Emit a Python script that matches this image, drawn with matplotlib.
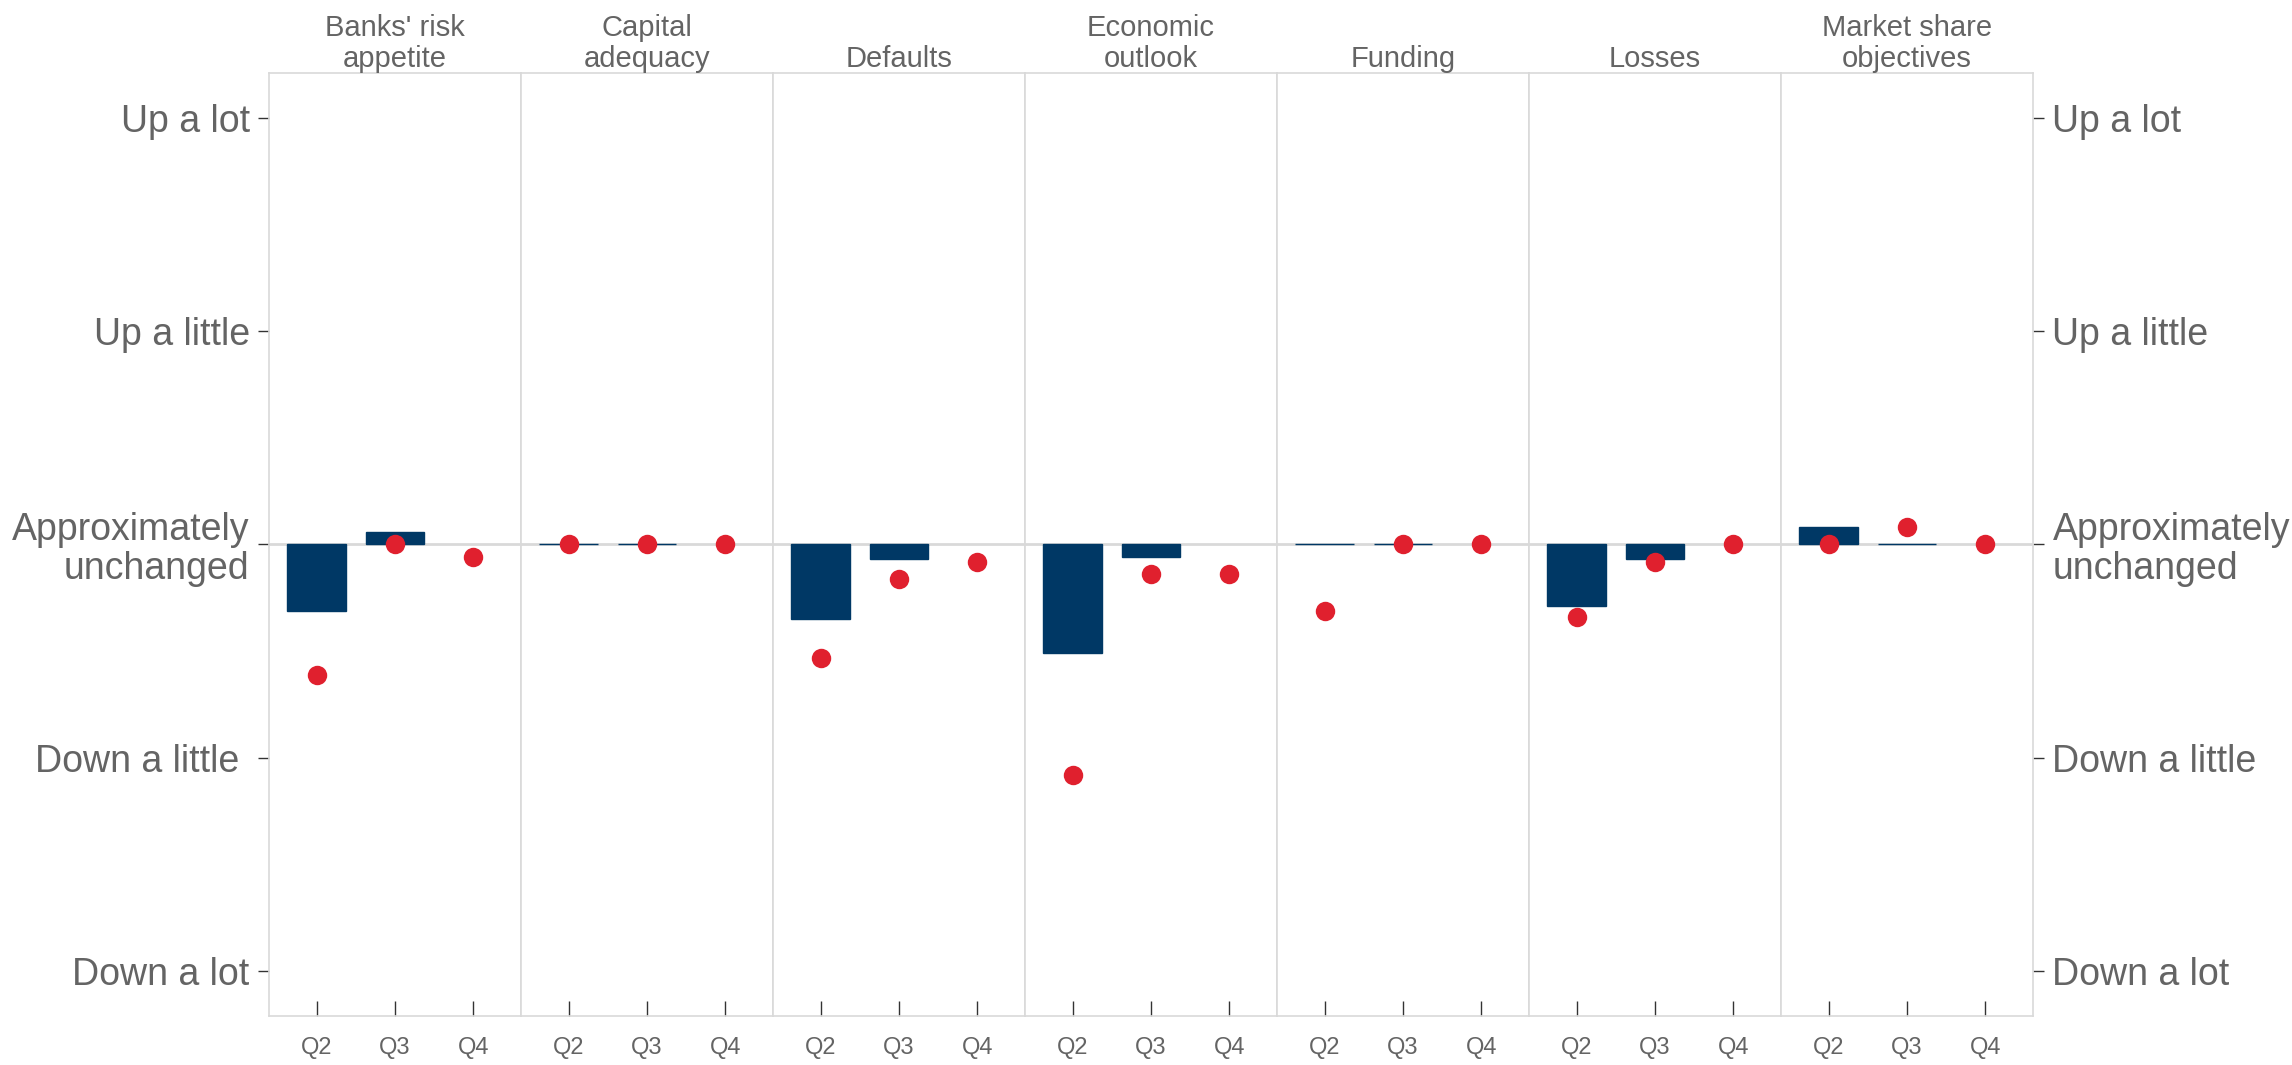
import numpy as np
import matplotlib
matplotlib.use("Agg")
import matplotlib.pyplot as plt

plt.rcParams['font.family'] = ['Liberation Sans Narrow', 'Liberation Sans', 'DejaVu Sans']

# factors and quarters
groups = ["Banks' risk\nappetite", "Capital\nadequacy", "Defaults", "Economic\noutlook",
          "Funding", "Losses", "Market share\nobjectives"]
quarters = ["Q2", "Q3", "Q4"]

# bars: reported change (Q4 has no bar yet), dots: expected change
reported = [
    [-0.31, 0.06, np.nan],
    [0.0, 0.0, np.nan],
    [-0.35, -0.07, np.nan],
    [-0.51, -0.06, np.nan],
    [0.0, 0.0, np.nan],
    [-0.29, -0.07, np.nan],
    [0.08, 0.0, np.nan],
]
expected = [
    [-0.61, 0.0, -0.06],
    [0.0, 0.0, 0.0],
    [-0.53, -0.16, -0.08],
    [-1.08, -0.14, -0.14],
    [-0.31, 0.0, 0.0],
    [-0.34, -0.08, 0.0],
    [0.0, 0.08, 0.0],
]

level_ticks = [2, 1, 0, -1, -2]
level_labels = ["Up a lot", "Up a little", "Approximately\nunchanged", "Down a little ", "Down a lot"]

navy = "#003865"
red = "#e0202e"
grey_txt = "#646464"
grey_line = "#d9d9d9"

fig, axes = plt.subplots(1, 7, figsize=(22.92, 10.65), dpi=100, sharey=True)
fig.subplots_adjust(left=0.1174, right=0.887, top=0.9315, bottom=0.046, wspace=0)

x = np.arange(3)
for i, ax in enumerate(axes):
    ax.axhline(0, color=grey_line, lw=2, zorder=1)
    ax.bar(x, reported[i], width=0.75, color=navy, edgecolor=navy, linewidth=1, zorder=2)
    ax.plot(x, expected[i], "o", color=red, markersize=14, markeredgewidth=0, zorder=3)
    ax.set_xlim(-0.61, 2.61)
    ax.set_ylim(-2.21, 2.21)
    ax.set_xticks(x)
    ax.set_xticklabels(quarters, fontsize=17, color=grey_txt)
    ax.tick_params(axis="x", direction="in", length=11, width=1, color="#333333", pad=15)
    ax.set_title(groups[i], fontsize=21, color=grey_txt, pad=3, linespacing=1.12)
    for s in ax.spines.values():
        s.set_color(grey_line)
        s.set_linewidth(1.2)
    ax.set_yticks(level_ticks)
    if i == 0:
        ax.set_yticklabels(level_labels, fontsize=27, color=grey_txt, linespacing=1.1)
        ax.tick_params(axis="y", direction="out", length=8, width=1, color="#333333", pad=6)
    elif i == len(axes) - 1:
        ax.tick_params(axis="y", left=False, right=True, labelleft=False, labelright=True,
                       direction="out", length=8, width=1, color="#333333", pad=6,
                       labelsize=27, labelcolor=grey_txt)
        ax.set_yticklabels(level_labels, linespacing=1.1)
    else:
        ax.tick_params(axis="y", left=False, labelleft=False)

plt.savefig("out.png")
